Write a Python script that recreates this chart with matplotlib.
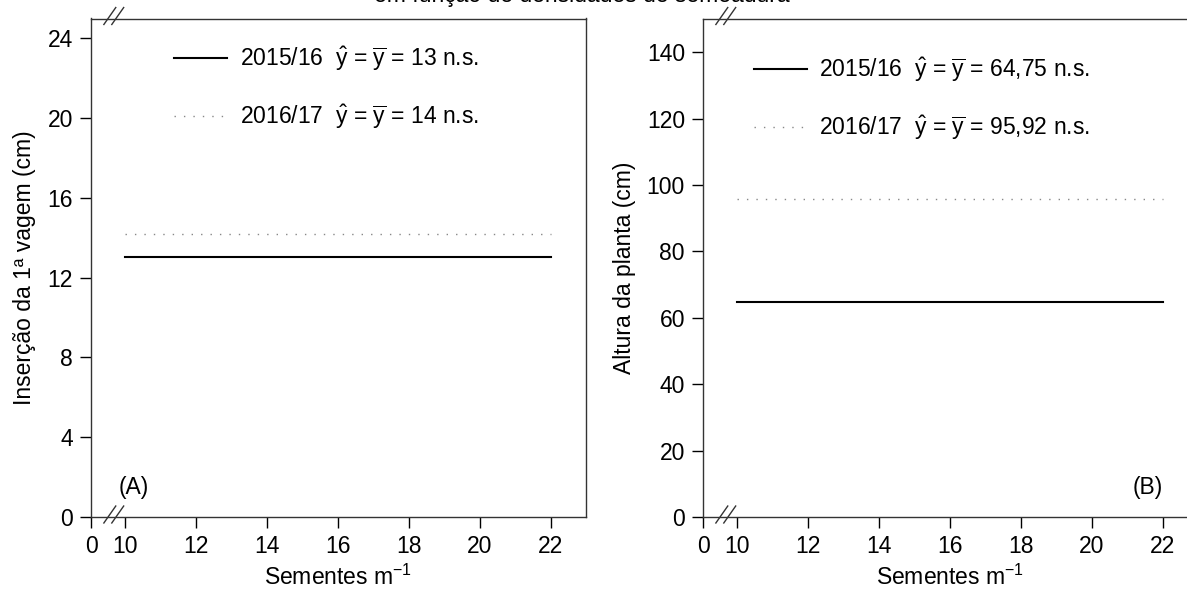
import matplotlib
matplotlib.use("Agg")
import matplotlib.pyplot as plt

plt.rcParams['font.family'] = ['Liberation Sans', 'DejaVu Sans']
plt.rcParams['mathtext.fontset'] = 'custom'
plt.rcParams['mathtext.rm'] = 'Liberation Sans'
plt.rcParams['mathtext.it'] = 'Liberation Sans'

# Data
seeds = [10, 22]
ins_2015 = [13.03, 13.03]
ins_2016 = [14.17, 14.17]
alt_2015 = [64.75, 64.75]
alt_2016 = [95.92, 95.92]
xticks = [10, 12, 14, 16, 18, 20, 22]
yticks_a = [0, 4, 8, 12, 16, 20, 24]
yticks_b = [0, 20, 40, 60, 80, 100, 120, 140]
lab_a = ["2015/16  $\\hat{y}$ = $\\overline{y}$ = 13 n.s.", "2016/17  $\\hat{y}$ = $\\overline{y}$ = 14 n.s."]
lab_b = ["2015/16  $\\hat{y}$ = $\\overline{y}$ = 64,75 n.s.", "2016/17  $\\hat{y}$ = $\\overline{y}$ = 95,92 n.s."]

W, H = 1187, 597
fig = plt.figure(figsize=(W / 100, H / 100), dpi=100)
fs = 16.5

def px(x0, x1, y0, y1):
    return [x0 / W, 1 - y1 / H, (x1 - x0) / W, (y1 - y0) / H]

ax1 = fig.add_axes(px(91, 586, 18.5, 517))
ax2 = fig.add_axes(px(703, 1198, 18.5, 517))

XZERO = 9.04

def style(ax, ylim, yticks, ylabel, tag, tagx, ha):
    ax.set_xlim(XZERO, 23)
    ax.set_ylim(*ylim)
    ax.set_xticks([XZERO] + xticks)
    ax.set_xticklabels(['0'] + [str(t) for t in xticks])
    ax.set_yticks(yticks)
    ax.tick_params(direction='out', length=8, width=1, labelsize=fs, pad=5)
    for s in ax.spines.values():
        s.set_linewidth(1.0)
        s.set_color('#333333')
    ax.set_xlabel('Sementes m$^{-1}$', fontsize=fs, labelpad=5)
    ax.set_ylabel(ylabel, fontsize=fs, labelpad=8)
    ax.text(tagx, 0.06, tag, transform=ax.transAxes, fontsize=fs, ha=ha, va='center')
    # break marks on bottom and top spines
    for yb in (0, 1):
        for dx in (0.0, 0.016):
            ax.plot([0.026 + dx, 0.05 + dx], [yb - 0.012, yb + 0.022],
                    transform=ax.transAxes, color='#333333', lw=1.0, clip_on=False)

style(ax1, (0, 25), yticks_a, 'Inserção da 1ª vagem (cm)', '(A)', 0.055, 'left')
style(ax2, (0, 150.2), yticks_b, 'Altura da planta (cm)', '(B)', 0.93, 'right')

dot = (0, (1, 5.8))
for ax, y1, y2, labs in ((ax1, ins_2015, ins_2016, lab_a), (ax2, alt_2015, alt_2016, lab_b)):
    ax.plot(seeds, y1, color='black', lw=1.5, label=labs[0])
    ax.plot(seeds, y2, color='#888888', lw=1.0, linestyle=dot, label=labs[1])

ax1.legend(loc='upper left', bbox_to_anchor=(0.145, 0.971), frameon=False, fontsize=fs,
           handlelength=2.3, handletextpad=0.55, labelspacing=1.3, borderpad=0)
ax2.legend(loc='upper left', bbox_to_anchor=(0.08, 0.949), frameon=False, fontsize=fs,
           handlelength=2.3, handletextpad=0.55, labelspacing=1.3, borderpad=0)

fig.text(0.49, 1.0 - 2 / H, 'em função de densidades de semeadura', ha='center', va='baseline', fontsize=fs)

fig.savefig('out.png', dpi=100)
